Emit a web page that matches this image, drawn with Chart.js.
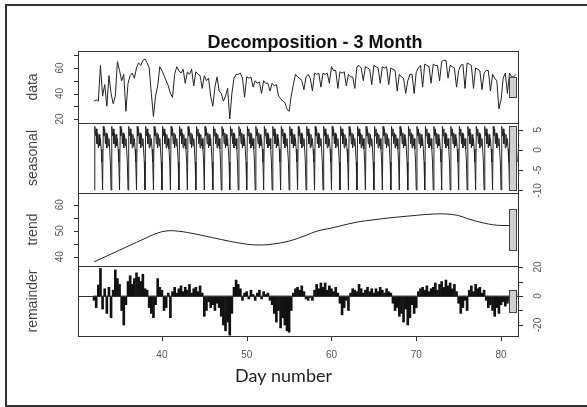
<!DOCTYPE html>
<html>
<head>
<meta charset="utf-8">
<script src="https://cdn.jsdelivr.net/npm/chart.js@4/dist/chart.umd.min.js"></script>
<style>
  html, body { margin: 0; padding: 0; background: #fff; }
  #wrap { position: relative; width: 587px; height: 407px; overflow: hidden; }
  #frame { position: absolute; left: 5px; top: 4px; width: 600px; height: 399px; border: 2px solid #333; }
  canvas { position: absolute; left: 0; top: 0; }
</style>
</head>
<body>
<div id="wrap">
  <div id="frame"></div>
  <canvas id="cData" width="587" height="407"></canvas>
  <canvas id="cSeasonal" width="587" height="407"></canvas>
  <canvas id="cTrend" width="587" height="407"></canvas>
  <canvas id="cRemainder" width="587" height="407"></canvas>
</div>
<script>
// 資料：第 32 天開始，每天 4 筆 (data / remainder)
const firstDay = 32;
const stepsPerDay = 4;

const observed = [
  34, 35, 34, 62,  38, 47, 30, 54,  40, 32, 38, 65,  58, 50, 55, 26,
  48, 54, 56, 52,  60, 64, 62, 66,  67, 64, 60, 40,  22, 38, 46, 61,
  58, 54, 50, 46,  40, 37, 55, 61,  58, 56, 59, 48,  57, 55, 59, 46,
  57, 55, 54, 44,  54, 50, 52, 38,  30, 45, 53, 42,  40, 34, 38, 44,
  20, 40, 52, 55,  55, 56, 52, 37,  53, 52, 53, 45,  50, 48, 49, 40,
  50, 48, 48, 42,  48, 46, 47, 38,  36, 34, 33, 28,  26, 38, 47, 55,
  53, 52, 50, 43,  53, 55, 52, 42,  56, 55, 56, 45,  56, 55, 56, 48,
  61, 58, 58, 44,  57, 56, 57, 46,  55, 53, 53, 44,  61, 62, 60, 50,
  61, 60, 59, 47,  62, 61, 60, 48,  61, 60, 61, 47,  60, 59, 58, 42,
  55, 53, 52, 40,  50, 55, 55, 40,  57, 60, 62, 45,  63, 62, 61, 48,
  63, 62, 62, 50,  65, 66, 66, 52,  62, 61, 60, 45,  58, 62, 63, 44,
  64, 63, 62, 44,  60, 59, 58, 43,  56, 58, 58, 42,  55, 52, 50, 28,
  35, 52, 56, 40,  56, 53, 53, 55
];

// 季節項：一天一個週期 (每 2 小時一筆)，每天相同
const seasonalCycle = [-9.9, 5.8, 3.5, 5.2, 1.5, 4.2, 0.5, 3.8, 1.0, 2.8, 0.2, -3.0];
const seasonalDays = 50;

// 趨勢：每天一筆 (第 32 ~ 81 天)
const trendDaily = [
  38.0, 39.5, 41.0, 42.5, 44.0, 45.5, 47.0, 48.5, 49.6, 50.0,
  49.8, 49.3, 48.7, 48.0, 47.3, 46.6, 45.9, 45.3, 44.8, 44.5,
  44.5, 44.8, 45.3, 46.0, 47.0, 48.2, 49.5, 50.4, 51.0, 51.8,
  52.6, 53.3, 53.8, 54.2, 54.6, 55.0, 55.3, 55.6, 55.9, 56.2,
  56.4, 56.5, 56.3, 55.8, 54.7, 53.7, 52.9, 52.3, 52.0, 52.0
];

const remainder = [
  -3, -8, 7.6, 19,  -9, 5, -12, 6,  -15, 4, 18, 12,  8, -10, -20, -6,
  10, 14, 8, 12,  16, 13, 10, 15,  5, 4, -8, -12,  -15, -6, 12, 6,
  4, -10, -8, 2,  -15, 3, 6, 2,  5, 7, 3, 6,  4, 8, 2, 5,
  6, 3, 7, 2,  -14, -10, -4, -8,  -6, -10, -5, -8,  -14, -20, -24, -18,
  -27, -12, 6, 11,  8, 5, -3, 2,  3, -2, 4, 1,  -3, 2, 4, -2,
  3, 1, 2, -3,  -6, -12, -18, -10,  -22, -15, -20, -24,  -25, -10, 2, 5,
  6, 4, 7, 3,  -2, -3, -1, -3,  4, 8, 5, 9,  6, 9, 4, 7,
  5, 3, 6, 2,  -5, -13, -8, -3,  -10, 2, 5, 4,  3, 8, 5, 2,
  4, 6, 3, 5,  2, 5, 3, 6,  4, 2, 5, 3,  2, -5, -10, -8,
  -14, -12, -18, -9,  -20, -15, -6, -12,  -8, 3, 5, 6,  4, 7, 3, 5,
  6, 9, 4, 8,  10, 6, 11, 7,  9, 5, 8, 3,  -5, -12, -8, -3,
  -10, 4, 7, 3,  8, 5, 6, 2,  4, -3, -8, -6,  -10, -14, -8, -12,
  -6, -4, -7, -5,  -3, -5, -2, 2
];

// 座標刻度
const xTicks = [40, 50, 60, 70, 80];
const dataTickMarks = [20, 30, 40, 50, 60, 70];
const dataTickLabels = [20, 40, 60];
const seasonalTickMarks = [-10, -5, 0, 5];
const seasonalTickLabels = [-10, -5, 0, 5];
const trendTickMarks = [40, 45, 50, 55, 60];
const trendTickLabels = [40, 50, 60];
const remainderTickMarks = [-20, -10, 0, 10, 20];
const remainderTickLabels = [-20, 0, 20];
const rangeBarLength = 15.8;

// 轉成 {x, y}
const toPoints = (arr, perDay) => arr.map((v, i) => ({ x: firstDay + i / perDay, y: v }));
const seasonalSeries = [];
for (let d = 0; d < seasonalDays; d++) seasonalSeries.push(...seasonalCycle);

Chart.defaults.font.family = '"Liberation Sans", Arial, sans-serif';
Chart.defaults.animation = false;

// 畫框、刻度、標籤、range bar
const stlPanel = {
  id: 'stlPanel',
  afterDatasetsDraw(chart, args, o) {
    const { ctx, chartArea: a, scales: { x, y } } = chart;
    ctx.save();
    ctx.strokeStyle = '#333';
    ctx.lineWidth = 1;

    if (o.zeroLine) {
      const y0 = Math.round(y.getPixelForValue(0)) + 0.5;
      ctx.beginPath(); ctx.moveTo(a.left, y0); ctx.lineTo(a.right, y0); ctx.stroke();
    }

    // range bar (置中於軸範圍)
    const mid = (y.min + y.max) / 2;
    const bt = Math.round(y.getPixelForValue(mid + rangeBarLength / 2)) + 0.5;
    const bb = Math.round(y.getPixelForValue(mid - rangeBarLength / 2)) + 0.5;
    const bl = Math.round(x.getPixelForValue(80.95)) + 0.5;
    const br = Math.round(x.getPixelForValue(81.75)) + 0.5;
    ctx.fillStyle = '#d0d0d0';
    ctx.fillRect(bl, bt, br - bl, bb - bt);
    ctx.strokeStyle = '#444';
    ctx.strokeRect(bl, bt, br - bl, bb - bt);

    // panel box
    ctx.strokeStyle = '#333';
    ctx.strokeRect(a.left + 0.5, a.top + 0.5, a.width, a.height);

    // y 軸刻度
    const left = o.side === 'left';
    const x0 = left ? a.left : a.right + 1;
    const dir = left ? -1 : 1;
    ctx.beginPath();
    o.marks.forEach(v => {
      const py = Math.round(y.getPixelForValue(v)) + 0.5;
      ctx.moveTo(x0, py); ctx.lineTo(x0 + dir * 4, py);
    });
    ctx.stroke();
    ctx.fillStyle = '#555';
    ctx.font = '10px "Liberation Sans", Arial, sans-serif';
    ctx.textAlign = 'center';
    ctx.textBaseline = 'middle';
    o.labels.forEach(v => {
      ctx.save();
      ctx.translate(left ? a.left - 18 : a.right + 20, y.getPixelForValue(v));
      ctx.rotate(-Math.PI / 2);
      ctx.fillText(String(v), 0, 0);
      ctx.restore();
    });

    // 面板名稱
    ctx.fillStyle = '#444';
    ctx.font = '14px "Liberation Sans", Arial, sans-serif';
    ctx.save();
    ctx.translate(33, (a.top + a.bottom) / 2);
    ctx.rotate(-Math.PI / 2);
    ctx.fillText(o.label, 0, 0);
    ctx.restore();

    if (o.title) {
      ctx.fillStyle = '#111';
      ctx.font = 'bold 18px "Liberation Sans", Arial, sans-serif';
      ctx.textBaseline = 'alphabetic';
      ctx.fillText(o.title, 315, 48);
    }

    if (o.xAxis) {
      ctx.beginPath();
      xTicks.forEach(v => {
        const px = Math.round(x.getPixelForValue(v)) + 0.5;
        ctx.moveTo(px, a.bottom + 1); ctx.lineTo(px, a.bottom + 5);
      });
      ctx.stroke();
      ctx.fillStyle = '#555';
      ctx.font = '10px "Liberation Sans", Arial, sans-serif';
      ctx.textBaseline = 'middle';
      xTicks.forEach(v => ctx.fillText(String(v), x.getPixelForValue(v), 355));
      ctx.fillStyle = '#1e1e28';
      ctx.font = '18px Lato, sans-serif';
      ctx.textBaseline = 'alphabetic';
      ctx.fillText(o.xAxis, 283.5, 382);
    }
    ctx.restore();
  }
};

// 建立一個面板
function makePanel(id, type, dataset, top, bottom, yMin, yMax, panelOpts) {
  return new Chart(document.getElementById(id), {
    type: type,
    data: { datasets: [dataset] },
    options: {
      responsive: false,
      devicePixelRatio: 1,
      layout: { padding: { left: 78, right: 69, top: top, bottom: 407 - bottom } },
      scales: {
        x: { type: 'linear', min: 30.1, max: 82, offset: false, grid: { offset: false }, display: false },
        y: { type: 'linear', min: yMin, max: yMax, display: false }
      },
      plugins: { legend: { display: false }, tooltip: { enabled: false }, stlPanel: panelOpts }
    },
    plugins: [stlPanel]
  });
}

const lineStyle = { borderColor: '#222', borderWidth: 1, pointRadius: 0, fill: false };

makePanel('cData', 'line',
  Object.assign({ data: toPoints(observed, stepsPerDay), tension: 0 }, lineStyle),
  51, 123, 16.9, 73.3,
  { label: 'data', side: 'left', marks: dataTickMarks, labels: dataTickLabels, title: 'Decomposition - 3 Month' });

makePanel('cSeasonal', 'line',
  Object.assign({ data: toPoints(seasonalSeries, seasonalCycle.length), tension: 0 }, lineStyle),
  123, 193, -10.64, 6.64,
  { label: 'seasonal', side: 'right', marks: seasonalTickMarks, labels: seasonalTickLabels });

makePanel('cTrend', 'line',
  Object.assign({ data: toPoints(trendDaily, 1), cubicInterpolationMode: 'monotone' }, lineStyle),
  193, 266, 36.4, 64.5,
  { label: 'trend', side: 'left', marks: trendTickMarks, labels: trendTickLabels });

makePanel('cRemainder', 'bar',
  { data: toPoints(remainder, stepsPerDay), backgroundColor: '#111', barThickness: 2 },
  266, 336, -27.6, 20.7,
  { label: 'remainder', side: 'right', marks: remainderTickMarks, labels: remainderTickLabels,
    zeroLine: true, xAxis: 'Day number' });
</script>
</body>
</html>
